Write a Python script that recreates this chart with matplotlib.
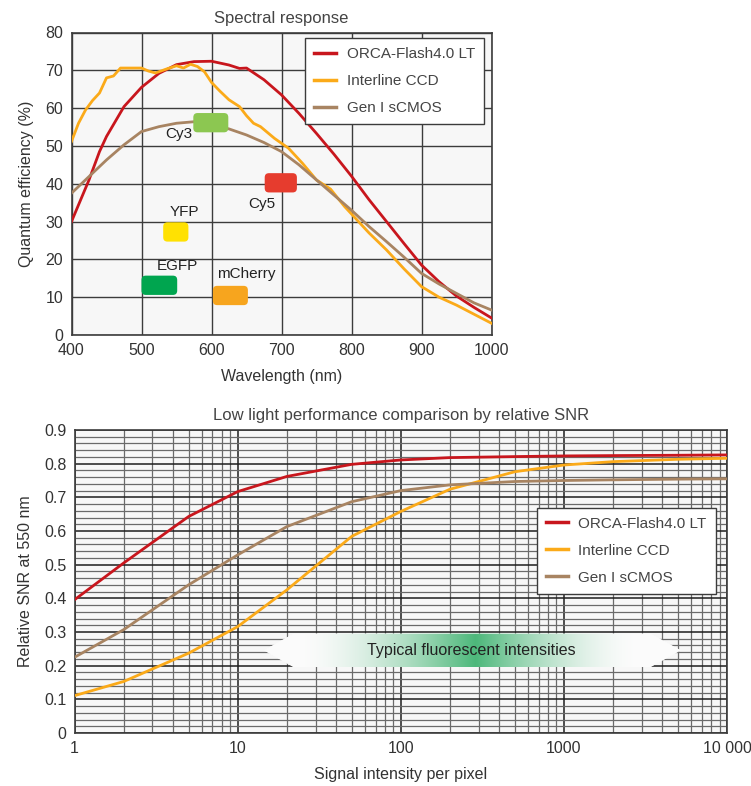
import numpy as np
import matplotlib
matplotlib.use("Agg")
import matplotlib.pyplot as plt
from matplotlib.patches import FancyBboxPatch, Polygon
from matplotlib.ticker import FixedLocator, NullFormatter

plt.rcParams['font.family'] = ['Liberation Sans', 'DejaVu Sans']
TXT = '#333333'
plt.rcParams['text.color'] = TXT
plt.rcParams['axes.labelcolor'] = TXT
plt.rcParams['xtick.color'] = TXT
plt.rcParams['ytick.color'] = TXT

# ---------------- Spectral response data ----------------
wl_orca = [400, 425, 440, 450, 475, 500, 525, 550, 575, 600, 625, 640, 650, 675, 700,
           725, 750, 775, 800, 825, 850, 875, 900, 925, 950, 975, 1000]
qe_orca = [30, 41, 48.5, 52.5, 60.4, 65.5, 69.2, 71.5, 72.3, 72.4, 71.4, 70.5, 70.6, 67.5, 63.5,
           58.6, 53.3, 47.8, 42, 35.8, 30, 24.2, 18.5, 14.1, 10.3, 7.3, 4.5]

wl_ccd = [400, 410, 420, 430, 440, 450, 460, 470, 480, 500, 510, 520, 535, 550, 560, 570,
          580, 590, 600, 612, 625, 640, 650, 660, 670, 690, 700, 710, 730, 750, 770, 790,
          800, 825, 850, 875, 900, 925, 950, 975, 1000]
qe_ccd = [51.2, 56, 59.5, 62, 64, 68, 68.5, 70.6, 70.6, 70.6, 69.8, 69.3, 70.3, 71.2, 70.6, 71.6,
          71, 69.6, 66.8, 64.5, 62.2, 60.4, 58, 56, 55.1, 52, 50.7, 49.4, 45.4, 41, 38.6, 34,
          32, 27, 22.5, 17.5, 12.8, 10, 7.9, 5.5, 3.1]

wl_scmos = [400, 425, 450, 475, 500, 525, 550, 575, 600, 625, 650, 675, 700, 725, 750,
            775, 800, 825, 850, 875, 900, 925, 950, 975, 1000]
qe_scmos = [37.5, 41.9, 46.3, 50.3, 53.8, 55.1, 56, 56.4, 55.6, 54.5, 52.9, 50.9, 48.5, 45, 41,
            37, 33, 28.7, 24.7, 20.6, 16.3, 13.5, 11, 8.5, 6.6]

# fluorophores: name, wavelength range, QE range, label position, colour
fluor_names = ['Cy3', 'Cy5', 'YFP', 'EGFP', 'mCherry']
fluor_wl_lo = [574, 676, 531, 500, 602]
fluor_wl_hi = [624, 722, 567, 551, 652]
fluor_qe_lo = [53.6, 37.7, 24.7, 10.6, 7.9]
fluor_qe_hi = [58.7, 42.8, 29.8, 15.7, 13.0]
fluor_lbl_wl = [554, 672, 562, 551, 649]
fluor_lbl_qe = [53.1, 34.7, 32.6, 18.3, 16.2]
fluor_colors = ['#8cc751', '#e63c2e', '#ffe102', '#00a54f', '#f7a51e']

# ---------------- SNR data ----------------
sig = [1, 2, 5, 10, 20, 50, 100, 200, 500, 1000, 2000, 5000, 10000]
snr_orca = [0.396, 0.505, 0.643, 0.717, 0.762, 0.798, 0.811, 0.818, 0.821, 0.823, 0.824, 0.825, 0.826]
snr_ccd = [0.111, 0.153, 0.237, 0.316, 0.425, 0.584, 0.658, 0.724, 0.776, 0.796, 0.806, 0.813, 0.816]
snr_scmos = [0.225, 0.307, 0.44, 0.529, 0.613, 0.687, 0.72, 0.737, 0.747, 0.75, 0.752, 0.754, 0.755]

series_names = ['ORCA-Flash4.0 LT', 'Interline CCD', 'Gen I sCMOS']
series_colors = ['#c8161d', '#fbaa19', '#a88462']

band_label = 'Typical fluorescent intensities'
band_tip_lo, band_body_lo, band_body_hi, band_tip_hi = 14.5, 22, 3400, 5200
band_snr_lo, band_snr_hi = 0.196, 0.295
band_peak = 285

W, H = 751, 786
fig = plt.figure(figsize=(W / 100, H / 100), dpi=100)
fig.patch.set_facecolor('white')

def px_axes(l, t, r, b):
    return fig.add_axes([l / W, 1 - b / H, (r - l) / W, (b - t) / H])

# ================= Top chart =================
ax1 = px_axes(71.5, 32.5, 491.5, 335)
ax1.set_facecolor('#f7f7f7')
ax1.set_xlim(400, 1000)
ax1.set_ylim(0, 80)
ax1.set_xticks(range(400, 1001, 100))
ax1.set_yticks(range(0, 81, 10))
ax1.set_axisbelow(True)
ax1.grid(True, color='#3c3c3c', linewidth=1.0)
for s in ax1.spines.values():
    s.set_color('#3c3c3c'); s.set_linewidth(1.2)
ax1.tick_params(length=0, labelsize=11.5, pad=6)

lines = []
for wl, qe, c, n in zip([wl_orca, wl_ccd, wl_scmos], [qe_orca, qe_ccd, qe_scmos], series_colors, series_names):
    ln, = ax1.plot(wl, qe, color=c, lw=2.0, label=n, solid_joinstyle='round', zorder=3)
    lines.append(ln)

for i, nm in enumerate(fluor_names):
    w = fluor_wl_hi[i] - fluor_wl_lo[i]
    h = fluor_qe_hi[i] - fluor_qe_lo[i]
    p = FancyBboxPatch((fluor_wl_lo[i], fluor_qe_lo[i]), w, h,
                       boxstyle='round,pad=0,rounding_size=6', mutation_aspect=0.19,
                       facecolor=fluor_colors[i], edgecolor='none', zorder=4)
    ax1.add_patch(p)
    ax1.text(fluor_lbl_wl[i], fluor_lbl_qe[i], nm, ha='center', va='center',
             fontsize=11, color='#222222', zorder=5)

leg1 = ax1.legend(handles=lines, loc='upper right', bbox_to_anchor=(0.982, 0.982),
                  fontsize=11, frameon=True, fancybox=False, handlelength=1.4,
                  handletextpad=0.7, labelspacing=0.85, borderpad=0.6,
                  borderaxespad=0)
leg1.get_frame().set_edgecolor('#3c3c3c')
leg1.get_frame().set_linewidth(1.0)
leg1.get_frame().set_facecolor('white')
leg1.get_frame().set_alpha(1)
for t in leg1.get_texts():
    t.set_color('#444444')
for l in leg1.get_lines():
    l.set_linewidth(2.5)

ax1.set_title('Spectral response', fontsize=12, color='#444444', pad=7)
ax1.set_xlabel('Wavelength (nm)', fontsize=11.5, labelpad=8)
ax1.set_ylabel('Quantum efficiency (%)', fontsize=11.5, labelpad=8)

# ================= Bottom chart =================
ax2 = px_axes(74.6, 430, 727, 733)
ax2.set_facecolor('#f7f7f7')
ax2.set_xscale('log')
ax2.set_xlim(1, 10000)
ax2.set_ylim(0, 0.9)
ax2.set_xticks([1, 10, 100, 1000, 10000])
ax2.set_xticklabels(['1', '10', '100', '1000', '10 000'])
ax2.xaxis.set_minor_locator(FixedLocator([m * 10 ** d for d in range(4) for m in range(2, 10)]))
ax2.xaxis.set_minor_formatter(NullFormatter())
ax2.set_yticks(np.arange(0, 0.91, 0.1))
ax2.set_yticklabels(['0', '0.1', '0.2', '0.3', '0.4', '0.5', '0.6', '0.7', '0.8', '0.9'])
ax2.yaxis.set_minor_locator(FixedLocator(np.arange(0, 0.9, 0.02)))
ax2.set_axisbelow(True)
ax2.grid(True, which='major', color='#1e1e1e', linewidth=1.1)
ax2.grid(True, which='minor', color='#6a6a6a', linewidth=0.9)
for s in ax2.spines.values():
    s.set_color('#3c3c3c'); s.set_linewidth(1.2)
ax2.tick_params(which='both', length=0, labelsize=11.5, pad=6)

# band with gradient
mid = (band_snr_lo + band_snr_hi) / 2
band = Polygon([(band_tip_lo, mid), (band_body_lo, band_snr_hi), (band_body_hi, band_snr_hi),
                (band_tip_hi, mid), (band_body_hi, band_snr_lo), (band_body_lo, band_snr_lo)],
               closed=True, facecolor='#fbfbfb', edgecolor='none', zorder=1,
               transform=ax2.transData)
ax2.add_patch(band)
N = 800
xf = np.linspace(0, 1, N)
xs_log = xf * 4
peak = np.log10(band_peak)
half_left = peak - np.log10(band_body_lo) - 0.05
half_right = np.log10(band_body_hi) - peak - 0.1
wgt = np.where(xs_log < peak, 1 - (peak - xs_log) / half_left, 1 - (xs_log - peak) / half_right)
wgt = np.clip(wgt, 0, 1) ** 1.6
green = np.array([0.30, 0.72, 0.48])
white = np.array([0.985, 0.985, 0.985])
img = white[None, :] * (1 - wgt[:, None]) + green[None, :] * wgt[:, None]
img = img[None, :, :]
y0 = band_snr_lo / 0.9
y1 = band_snr_hi / 0.9
im = ax2.imshow(img, extent=[0, 1, y0, y1], transform=ax2.transAxes, aspect='auto',
                zorder=1.1, interpolation='bilinear')
im.set_clip_path(band)
ax2.set_xlim(1, 10000)
ax2.set_ylim(0, 0.9)
ax2.text(band_peak * 0.95, mid, band_label, ha='center', va='center', fontsize=11.5,
         color='#222222', zorder=5)

lines2 = []
for ys, c, n in zip([snr_orca, snr_ccd, snr_scmos], series_colors, series_names):
    ln, = ax2.plot(sig, ys, color=c, lw=2.0, label=n, solid_joinstyle='round', zorder=3)
    lines2.append(ln)

leg2 = ax2.legend(handles=lines2, loc='lower left', bbox_to_anchor=(0.709, 0.459),
                  fontsize=11, frameon=True, fancybox=False, handlelength=1.4,
                  handletextpad=0.7, labelspacing=0.85, borderpad=0.6,
                  borderaxespad=0)
leg2.get_frame().set_edgecolor('#3c3c3c')
leg2.get_frame().set_linewidth(1.0)
leg2.get_frame().set_facecolor('white')
leg2.get_frame().set_alpha(1)
for t in leg2.get_texts():
    t.set_color('#444444')
for l in leg2.get_lines():
    l.set_linewidth(2.5)

ax2.set_title('Low light performance comparison by relative SNR', fontsize=12,
              color='#444444', pad=7)
ax2.set_xlabel('Signal intensity per pixel', fontsize=11.5, labelpad=8)
ax2.set_ylabel('Relative SNR at 550 nm', fontsize=11.5, labelpad=8)

fig.savefig('out.png', dpi=100, facecolor='white')
